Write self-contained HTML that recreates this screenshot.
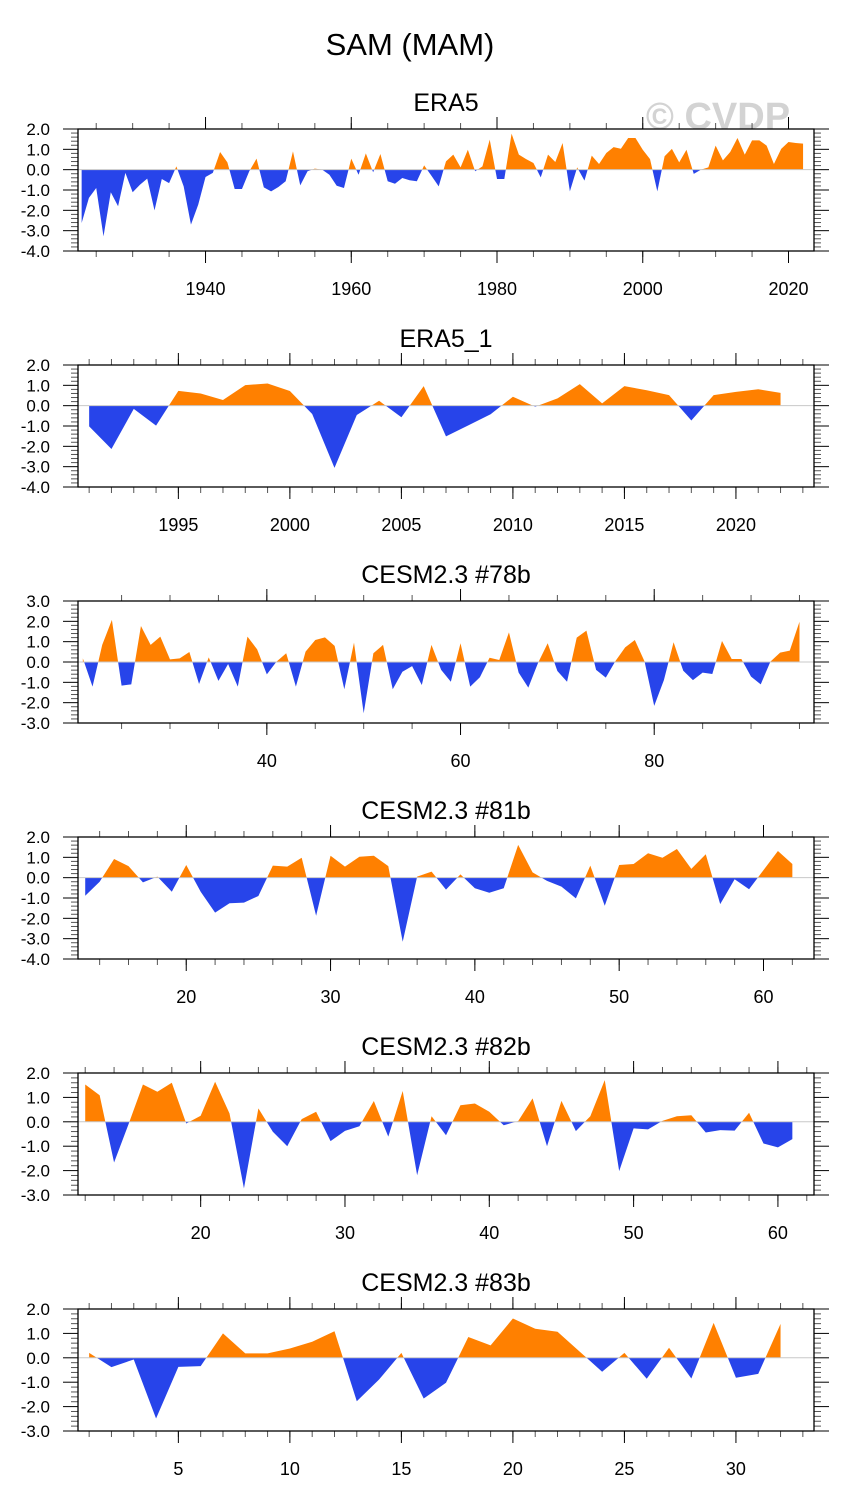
<!DOCTYPE html>
<html><head><meta charset="utf-8"><style>
html,body{margin:0;padding:0;background:#fff;}
svg{display:block;font-family:"Liberation Sans",sans-serif;}
</style></head><body>
<svg id="chart" width="845" height="1506" viewBox="0 0 845 1506" xmlns="http://www.w3.org/2000/svg">
<text x="410" y="55" font-size="31" text-anchor="middle">SAM (MAM)</text>
<text x="718" y="129" font-size="38" font-weight="bold" fill="#d3d3d3" text-anchor="middle">© CVDP</text>
</svg>
<script>
const era5Values = [-2.62,-1.39,-0.9,-3.28,-1.11,-1.8,-0.16,-1.11,-0.74,-0.44,-2.0,-0.46,-0.66,0.16,-0.82,-2.7,-1.72,-0.36,-0.16,0.87,0.36,-0.95,-0.95,-0.08,0.54,-0.87,-1.07,-0.85,-0.57,0.9,-0.77,-0.08,0.05,0,-0.25,-0.79,-0.9,0.54,-0.25,0.8,-0.13,0.77,-0.57,-0.69,-0.41,-0.52,-0.57,0.21,-0.3,-0.82,0.41,0.74,0.11,0.98,-0.08,0.16,1.48,-0.46,-0.46,1.77,0.74,0.52,0.33,-0.38,0.74,0.38,1.31,-1.07,0.11,-0.54,0.69,0.28,0.82,1.11,1.03,1.56,1.56,0.98,0.52,-1.07,0.66,1.02,0.36,0.98,-0.21,0,0.11,1.18,0.46,0.87,1.56,0.74,1.44,1.44,1.18,0.28,1.02,1.36,1.31,1.28];
const era5_1Values = [-1.02,-2.13,-0.16,-0.98,0.73,0.6,0.28,1.01,1.09,0.72,-0.41,-3.06,-0.46,0.24,-0.57,0.96,-1.51,-0.97,-0.42,0.44,-0.05,0.36,1.06,0.11,0.96,0.76,0.52,-0.73,0.52,0.68,0.81,0.63];
const cesm78Values = [0.18,-1.21,0.84,2.07,-1.16,-1.1,1.77,0.84,1.25,0.13,0.18,0.49,-1.08,0.23,-0.93,-0.1,-1.21,1.25,0.62,-0.61,0.02,0.43,-1.21,0.51,1.08,1.21,0.79,-1.34,0.95,-2.52,0.43,0.84,-1.34,-0.48,-0.2,-1.13,0.84,-0.39,-0.97,0.92,-1.21,-0.75,0.21,0.1,1.46,-0.52,-1.26,-0.05,0.92,-0.44,-0.97,1.2,1.54,-0.39,-0.77,0.05,0.72,1.08,0.03,-2.16,-0.89,0.97,-0.43,-0.89,-0.52,-0.59,1.03,0.15,0.15,-0.72,-1.1,0.02,0.46,0.56,1.98];
const cesm81Values = [-0.89,-0.2,0.92,0.57,-0.23,0.05,-0.69,0.62,-0.69,-1.72,-1.26,-1.23,-0.9,0.59,0.54,0.98,-1.87,1.08,0.54,1.03,1.08,0.57,-3.15,0.05,0.3,-0.59,0.16,-0.52,-0.74,-0.52,1.61,0.26,-0.16,-0.44,-1.02,0.59,-1.38,0.62,0.67,1.2,0.98,1.41,0.43,1.15,-1.3,-0.08,-0.57,0.37,1.31,0.67];
const cesm82Values = [1.53,1.09,-1.67,-0.1,1.53,1.23,1.6,-0.07,0.25,1.64,0.34,-2.73,0.55,-0.41,-1.0,0.11,0.41,-0.79,-0.37,-0.18,0.85,-0.61,1.26,-2.19,0.23,-0.55,0.68,0.75,0.41,-0.14,0.03,0.96,-1.0,0.86,-0.38,0.23,1.71,-2.02,-0.27,-0.31,0.04,0.23,0.27,-0.44,-0.34,-0.36,0.37,-0.89,-1.05,-0.71];
const cesm83Values = [0.2,-0.38,-0.07,-2.49,-0.37,-0.34,1.0,0.18,0.18,0.38,0.66,1.09,-1.78,-0.89,0.2,-1.67,-1.02,0.85,0.51,1.61,1.19,1.07,0.25,-0.57,0.2,-0.86,0.41,-0.85,1.43,-0.82,-0.66,1.39];

const panelTitles = ["ERA5","ERA5_1","CESM2.3 #78b","CESM2.3 #81b","CESM2.3 #82b","CESM2.3 #83b"];
const panelSeries = [era5Values, era5_1Values, cesm78Values, cesm81Values, cesm82Values, cesm83Values];
const panelStartX = [1923, 1991, 21, 13, 12, 1];
const panelXMin = [1922.5, 1990.5, 20.5, 12.5, 11.5, 0.5];
const panelXMax = [2023.5, 2023.5, 96.5, 63.5, 62.5, 33.5];
const panelYMax = [2, 2, 3, 2, 2, 2];
const panelYMin = [-4, -4, -3, -4, -3, -3];
const xMajorTicks = [[1940,1960,1980,2000,2020],[1995,2000,2005,2010,2015,2020],[40,60,80],[20,30,40,50,60],[20,30,40,50,60],[5,10,15,20,25,30]];
const xMinorStep = [5, 1, 5, 2, 2, 1];

const NS = "http://www.w3.org/2000/svg";
const svg = document.getElementById("chart");
const BX0 = 78, BX1 = 814, BH = 122;
const panelTops = [129, 365, 601, 837, 1073, 1309];

function mk(tag, attrs, parent) {
  const e = document.createElementNS(NS, tag);
  for (const k in attrs) e.setAttribute(k, attrs[k]);
  (parent || svg).appendChild(e);
  return e;
}

for (let p = 0; p < 6; p++) {
  const top = panelTops[p], bot = top + BH;
  const xmin = panelXMin[p], xmax = panelXMax[p], ymin = panelYMin[p], ymax = panelYMax[p];
  const sx = v => BX0 + (v - xmin) / (xmax - xmin) * (BX1 - BX0);
  const sy = v => top + (ymax - v) / (ymax - ymin) * BH;
  const g = mk("g", {});
  
  

  const t = mk("text", {x: (BX0 + BX1) / 2, y: top - 18, "font-size": 25, "text-anchor": "middle"}, g);
  t.textContent = panelTitles[p];
  
  

  const vals = panelSeries[p];
  const y0 = sy(0);
  let d = "M" + sx(panelStartX[p]) + "," + y0;
  vals.forEach((v, i) => { d += " L" + sx(panelStartX[p] + i) + "," + sy(v); });
  d += " L" + sx(panelStartX[p] + vals.length - 1) + "," + y0 + " Z";

  const cpA = mk("clipPath", {id: "ca" + p}, g);
  mk("rect", {x: BX0, y: top, width: BX1 - BX0, height: y0 - top}, cpA);
  const cpB = mk("clipPath", {id: "cb" + p}, g);
  mk("rect", {x: BX0, y: y0, width: BX1 - BX0, height: bot - y0}, cpB);

  const pos = mk("path", {d: d, fill: "#ff8000", "clip-path": "url(#ca" + p + ")"}, g);
  
  
  const neg = mk("path", {d: d, fill: "#2744ea", "clip-path": "url(#cb" + p + ")"}, g);
  
  

  const zl = mk("line", {x1: BX0, x2: BX1, y1: y0, y2: y0, stroke: "#c8c8c8", "stroke-width": 1}, g);
  
  

  for (let v = ymin; v <= ymax + 1e-9; v += 1) {
    const y = sy(v);
    mk("line", {x1: BX0 - 15, x2: BX0, y1: y, y2: y, stroke: "#000", "stroke-width": 1}, g);
    mk("line", {x1: BX1, x2: BX1 + 15, y1: y, y2: y, stroke: "#000", "stroke-width": 1}, g);
    const lab = mk("text", {x: 50, y: y + 6, "font-size": 17, "text-anchor": "end"}, g);
    lab.textContent = v.toFixed(1);
    
    
    if (v < ymax) {
      for (let k = 1; k < 5; k++) {
        const ym = sy(v + k * 0.2);
        mk("line", {x1: BX0 - 7, x2: BX0, y1: ym, y2: ym, stroke: "#555", "stroke-width": 1}, g);
        mk("line", {x1: BX1, x2: BX1 + 7, y1: ym, y2: ym, stroke: "#555", "stroke-width": 1}, g);
      }
    }
  }
  const ms = xMinorStep[p];
  for (let v = Math.ceil(xmin / ms) * ms; v <= xmax; v += ms) {
    const x = sx(v);
    mk("line", {x1: x, x2: x, y1: top - 6, y2: top, stroke: "#555", "stroke-width": 1}, g);
    mk("line", {x1: x, x2: x, y1: bot, y2: bot + 6, stroke: "#555", "stroke-width": 1}, g);
  }
  xMajorTicks[p].forEach(v => {
    const x = sx(v);
    mk("line", {x1: x, x2: x, y1: top - 12, y2: top, stroke: "#000", "stroke-width": 1}, g);
    mk("line", {x1: x, x2: x, y1: bot, y2: bot + 12, stroke: "#000", "stroke-width": 1}, g);
    const lab = mk("text", {x: x, y: top + 166, "font-size": 18, "text-anchor": "middle"}, g);
    lab.textContent = v;
    
    
  });

  const box = mk("rect", {x: BX0, y: top, width: BX1 - BX0, height: BH, fill: "none", stroke: "#000", "stroke-width": 1.3}, g);
  
  
}
</script>
</body></html>
